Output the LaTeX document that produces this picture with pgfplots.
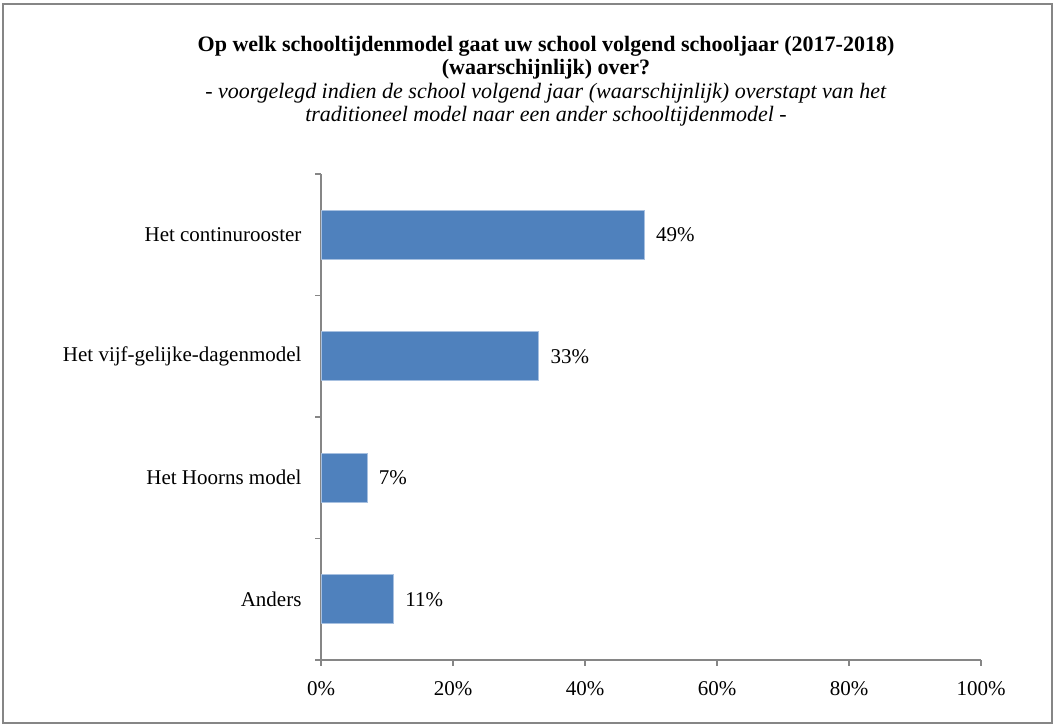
\documentclass[border=0pt]{standalone}
\usepackage{fontspec}
\setmainfont{Liberation Serif}
\usepackage{pgfplots}
\pgfplotsset{compat=1.18}
\definecolor{barblue}{HTML}{4F81BD}
\definecolor{baredge}{HTML}{A7C0E0}
\definecolor{axisgray}{HTML}{868686}
\begin{document}
\begin{tikzpicture}
\useasboundingbox (0bp,0bp) rectangle (1056bp,726bp);
\draw[axisgray,line width=1.5bp] (3bp,3bp) rectangle (1052bp,722bp);
\node[align=center,anchor=north,inner sep=0pt,
      font=\fontsize{22bp}{23.5bp}\selectfont] at (546bp,690bp) {%
  \textbf{Op welk schooltijdenmodel gaat uw school volgend schooljaar (2017-2018)}\\
  \textbf{(waarschijnlijk) over?}\\
  \textit{- voorgelegd indien de school volgend jaar (waarschijnlijk) overstapt van het}\\
  \textit{traditioneel model naar een ander schooltijdenmodel -}};
\begin{axis}[
  at={(321bp,66bp)}, anchor=south west,
  width=660bp, height=486bp, scale only axis,
  xbar, bar width=49bp,
  xmin=0, xmax=100,
  ymin=-0.5, ymax=3.5,
  axis lines*=left,
  axis line style={axisgray,line width=1.5bp},
  xtick={0,20,...,100},
  xticklabels={0\%,20\%,40\%,60\%,80\%,100\%},
  ytick={0,1,2,3},
  yticklabels={Anders,Het Hoorns model,Het vijf-gelijke-dagenmodel,Het continurooster},
  minor ytick={-0.5,0.5,1.5,2.5,3.5},
  tick align=outside,
  major tick length=6bp,
  minor tick length=6bp,
  y tick style={draw=none},
  minor y tick style={draw=axisgray,line width=1.5bp},
  x tick style={axisgray,line width=1.5bp},
  ticklabel style={font=\fontsize{21bp}{23bp}\selectfont},
  yticklabel style={xshift=-10bp},
  xticklabel style={yshift=-12bp},
  nodes near coords={\pgfmathprintnumber{\pgfplotspointmeta}\%},
  nodes near coords align={horizontal},
  every node near coord/.append style={font=\fontsize{21bp}{23bp}\selectfont,xshift=8bp},
  /pgf/number format/assume math mode=true,
  clip=false,
]
\addplot[fill=barblue,draw=baredge,line width=0.8bp] coordinates {
  (11,0) (7,1) (33,2) (49,3)
};
\end{axis}
\end{tikzpicture}
\end{document}
